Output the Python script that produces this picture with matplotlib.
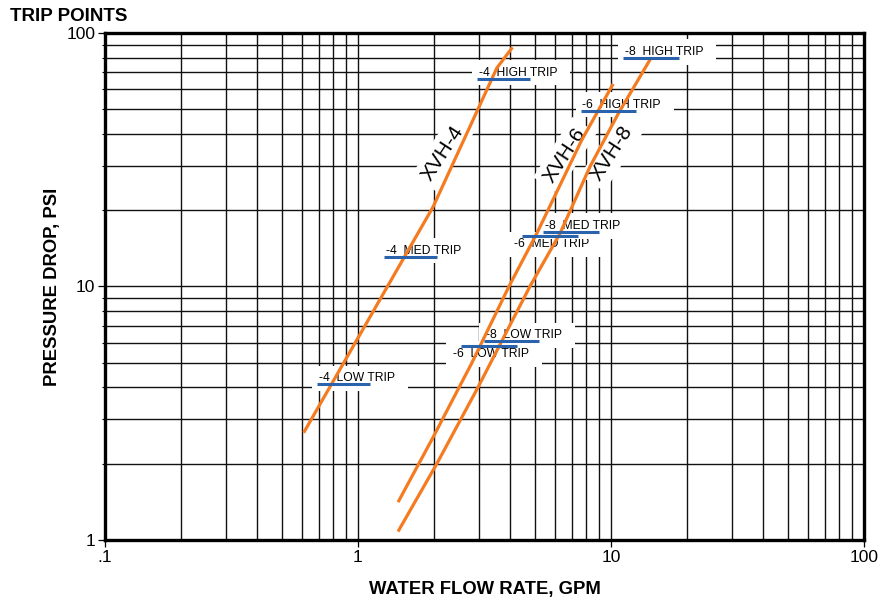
import matplotlib
matplotlib.use("Agg")
import matplotlib.pyplot as plt
from matplotlib.ticker import FixedLocator, NullFormatter

plt.rcParams["font.family"] = ["Liberation Sans", "DejaVu Sans"]

# flow (GPM) vs pressure drop (PSI) curves
xvh4_gpm = [0.61, 1.98, 3.54, 4.08]
xvh4_psi = [2.65, 20.6, 72.8, 87.8]

xvh6_gpm = [1.44, 1.98, 2.82, 3.95, 5.09, 7.66, 10.2]
xvh6_psi = [1.41, 2.54, 5.0, 10.0, 16.2, 37.8, 63.0]

xvh8_gpm = [1.44, 2.05, 2.98, 4.78, 6.29, 8.26, 10.7, 14.3]
xvh8_psi = [1.08, 2.0, 4.0, 10.0, 16.2, 29.7, 48.2, 78.8]

curve_names = ["XVH-4", "XVH-6", "XVH-8"]
curve_label_gpm = [2.17, 6.58, 10.06]
curve_label_psi = [33.6, 33.0, 33.5]

# trip point markers: bar from gpm_lo to gpm_hi at trip_psi
trip_labels = ["-4  HIGH TRIP", "-6  HIGH TRIP", "-8  HIGH TRIP",
               "-4  MED TRIP", "-8  MED TRIP", "-6  MED TRIP",
               "-4  LOW TRIP", "-8  LOW TRIP", "-6  LOW TRIP"]
trip_gpm_lo = [2.96, 7.61, 11.2, 1.27, 5.40, 4.46, 0.69, 3.16, 2.55]
trip_gpm_hi = [4.78, 12.6, 18.6, 2.05, 8.97, 7.39, 1.115, 5.21, 4.24]
trip_psi = [65.9, 49.4, 79.7, 13.1, 16.4, 15.8, 4.11, 6.08, 5.83]
trip_text_below = [False, False, False, False, False, True, False, False, True]

x_ticks = [0.1, 1, 10, 100]
x_ticklabels = [".1", "1", "10", "100"]
y_ticks = [1, 10, 100]
y_ticklabels = ["1", "10", "100"]

ORANGE = "#f47b20"
BLUE = "#2a62ac"

fig = plt.figure(figsize=(8.8, 6.01), dpi=100)
ax = fig.add_axes([0.1193, 0.1015, 0.8625, 0.8436])
ax.set_xscale("log")
ax.set_yscale("log")
ax.set_xlim(0.1, 100)
ax.set_ylim(1, 100)

# grid: every 1..9 line in each decade
ax.xaxis.set_major_locator(FixedLocator(x_ticks))
ax.yaxis.set_major_locator(FixedLocator(y_ticks))
ax.xaxis.set_minor_locator(FixedLocator([m * d for d in (0.1, 1, 10) for m in range(2, 10)]))
ax.yaxis.set_minor_locator(FixedLocator([m * d for d in (1, 10) for m in range(2, 10)]))
ax.xaxis.set_minor_formatter(NullFormatter())
ax.yaxis.set_minor_formatter(NullFormatter())
ax.set_xticklabels(x_ticklabels)
ax.set_yticklabels(y_ticklabels)
ax.grid(True, which="both", color="#111111", lw=1.0, zorder=0)
ax.set_axisbelow(True)

ax.tick_params(which="major", direction="out", length=5, width=0.9, labelsize=12.5, pad=2)
ax.tick_params(axis="x", which="minor", length=0)
ax.tick_params(axis="y", which="minor", direction="out", length=2.5, width=0.8)
for sp in ax.spines.values():
    sp.set_linewidth(2.4)

for gpm, psi in [(xvh4_gpm, xvh4_psi), (xvh6_gpm, xvh6_psi), (xvh8_gpm, xvh8_psi)]:
    ax.plot(gpm, psi, color=ORANGE, lw=2.3, solid_capstyle="butt", zorder=4)

for name, gx, gy in zip(curve_names, curve_label_gpm, curve_label_psi):
    ax.text(gx, gy, name, rotation=57, fontsize=15, ha="center", va="center",
            rotation_mode="anchor", zorder=3,
            bbox=dict(boxstyle="square,pad=0.25", fc="white", ec="none"))

# labels under the bar go first so the ones above stay fully readable
for lab, lo, hi, psi, below in zip(trip_labels, trip_gpm_lo, trip_gpm_hi, trip_psi, trip_text_below):
    if below:
        ax.annotate(lab + "  ", xy=(lo, psi), xytext=(-6, -8), textcoords="offset points",
                    fontsize=8.7, ha="left", va="baseline", zorder=2.4,
                    bbox=dict(boxstyle="square,pad=0.55", fc="white", ec="none"))
    else:
        ax.annotate(lab + "  ", xy=(lo, psi), xytext=(1, 2.2), textcoords="offset points",
                    fontsize=8.7, ha="left", va="baseline", zorder=2.5,
                    bbox=dict(boxstyle="square,pad=0.55", fc="white", ec="none"))
    ax.plot([lo, hi], [psi, psi], color=BLUE, lw=2.2, solid_capstyle="butt", zorder=5)

ax.set_xlabel("WATER FLOW RATE, GPM", fontsize=13.3, fontweight="bold", labelpad=12)
ax.set_ylabel("PRESSURE DROP, PSI", fontsize=13.3, fontweight="bold", labelpad=4)
fig.text(10 / 880, 1 - 8 / 601, "TRIP POINTS", fontsize=13.5, fontweight="bold",
         ha="left", va="top")

fig.savefig("out.png", dpi=100)
